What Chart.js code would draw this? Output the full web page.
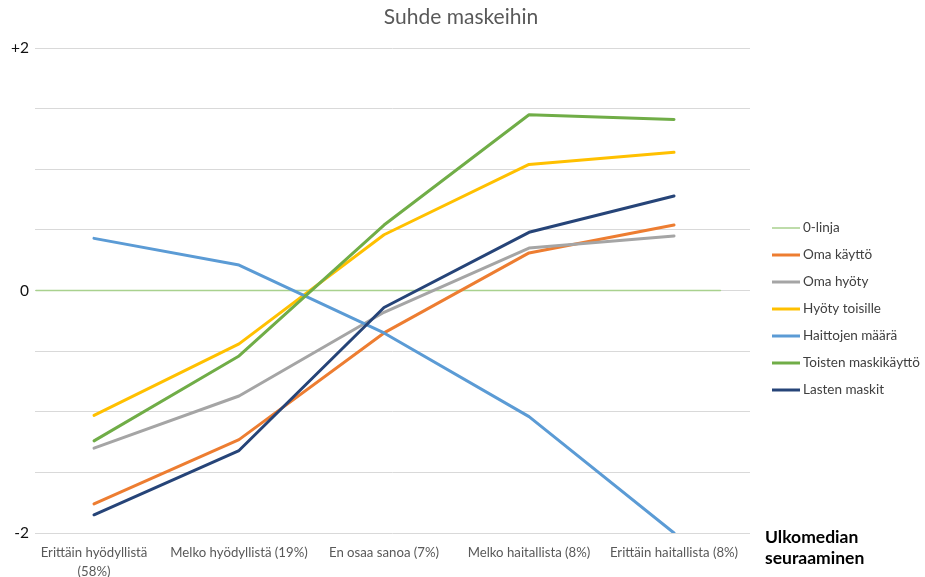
<!DOCTYPE html>
<html>
<head>
<meta charset="utf-8">
<title>Suhde maskeihin</title>
<script src="https://cdn.jsdelivr.net/npm/chart.js@4/dist/chart.umd.min.js"></script>
<style>
  html, body { margin: 0; padding: 0; background: #fff; }
  #wrap { width: 925px; height: 577px; }
</style>
</head>
<body>
<div id="wrap"><canvas id="c" width="925" height="577"></canvas></div>
<script>
// Categories on the x axis
const categories = [
  ['Erittäin hyödyllistä', '(58%)'],
  'Melko hyödyllistä (19%)',
  'En osaa sanoa (7%)',
  'Melko haitallista (8%)',
  'Erittäin haitallista (8%)'
];

// Series values
const omaKaytto          = [-1.76, -1.23, -0.35, 0.31, 0.54];
const omaHyoty           = [-1.30, -0.87, -0.18, 0.35, 0.45];
const hyotyToisille      = [-1.03, -0.44, 0.46, 1.04, 1.14];
const haittojenMaara     = [0.43, 0.21, -0.35, -1.04, -2.00];
const toistenMaskikaytto = [-1.24, -0.54, 0.54, 1.45, 1.41];
const lastenMaskit       = [-1.85, -1.32, -0.14, 0.48, 0.78];

// Reference line at zero (x in category units)
const zeroLineX = [-0.4, 4.32];
const zeroLineY = [0, 0];

// Y tick labels shown
const yTickLabels = { '2': '+2', '0': '0', '-2': '-2' };

const axisTitle = ['Ulkomedian', 'seuraaminen'];
const chartTitle = 'Suhde maskeihin';

const FONT = 'Lato, "Open Sans", sans-serif';

function pts(values) {
  return values.map((v, i) => ({ x: i, y: v }));
}

const seriesDefs = [
  { label: 'Oma käyttö', values: omaKaytto, color: '#ED7D31' },
  { label: 'Oma hyöty', values: omaHyoty, color: '#A5A5A5' },
  { label: 'Hyöty toisille', values: hyotyToisille, color: '#FFC000' },
  { label: 'Haittojen määrä', values: haittojenMaara, color: '#5B9BD5' },
  { label: 'Toisten maskikäyttö', values: toistenMaskikaytto, color: '#70AD47' },
  { label: 'Lasten maskit', values: lastenMaskit, color: '#264478' }
];

const datasets = [{
  label: '0-linja',
  data: zeroLineX.map((x, i) => ({ x: x, y: zeroLineY[i] })),
  borderColor: '#A9D18E',
  borderWidth: 1.5,
  order: 10
}].concat(seriesDefs.map((s, i) => ({
  label: s.label,
  data: pts(s.values),
  borderColor: s.color,
  borderWidth: 3,
  order: 9 - i
})));

// Title, legend and axis caption drawn on the canvas
const decorations = {
  id: 'decorations',
  afterDraw(chart) {
    const ctx = chart.ctx;
    ctx.save();
    // title
    ctx.fillStyle = '#595959';
    ctx.font = '21px ' + FONT;
    ctx.textAlign = 'center';
    ctx.textBaseline = 'middle';
    ctx.fillText(chartTitle, 461, 17);

    // legend
    ctx.textAlign = 'left';
    ctx.font = '13.5px ' + FONT;
    chart.data.datasets.forEach((ds, i) => {
      const y = 228 + i * 27;
      ctx.strokeStyle = ds.borderColor;
      ctx.lineWidth = ds.borderWidth;
      ctx.beginPath();
      ctx.moveTo(772, y);
      ctx.lineTo(800, y);
      ctx.stroke();
      ctx.fillStyle = '#404040';
      ctx.fillText(ds.label, 803, y);
    });

    // axis caption
    ctx.fillStyle = '#000';
    ctx.font = 'bold 17.5px ' + FONT;
    ctx.fillText(axisTitle[0], 765, 537);
    ctx.fillText(axisTitle[1], 765, 558);
    ctx.restore();
  }
};

new Chart(document.getElementById('c'), {
  type: 'line',
  data: { datasets: datasets },
  options: {
    responsive: false,
    animation: false,
    layout: { padding: { top: 48, right: 175, left: 0, bottom: 0 } },
    elements: {
      line: { tension: 0, borderCapStyle: 'round', borderJoinStyle: 'round' },
      point: { radius: 0, hoverRadius: 0 }
    },
    plugins: {
      legend: { display: false },
      title: { display: false },
      tooltip: { enabled: false }
    },
    scales: {
      x: {
        type: 'linear',
        min: -0.407,
        max: 4.524,
        grid: { display: false },
        border: { display: false },
        afterBuildTicks(scale) {
          scale.ticks = categories.map((_, i) => ({ value: i }));
        },
        afterFit(scale) { scale.height = 44; },
        ticks: {
          autoSkip: false,
          maxRotation: 0,
          padding: 3,
          color: '#595959',
          font: { family: FONT, size: 13.2, lineHeight: 1.4 },
          callback: (v) => categories[v]
        }
      },
      y: {
        min: -2,
        max: 2,
        afterFit(scale) { scale.width = 35; },
        grid: { color: '#D9D9D9', lineWidth: 1, drawTicks: false },
        border: { display: false },
        ticks: {
          stepSize: 0.5,
          padding: 6,
          color: '#111',
          font: { family: FONT, size: 15.5 },
          callback: (v) => yTickLabels[String(v)] || ''
        }
      }
    }
  },
  plugins: [decorations]
});
</script>
</body>
</html>
